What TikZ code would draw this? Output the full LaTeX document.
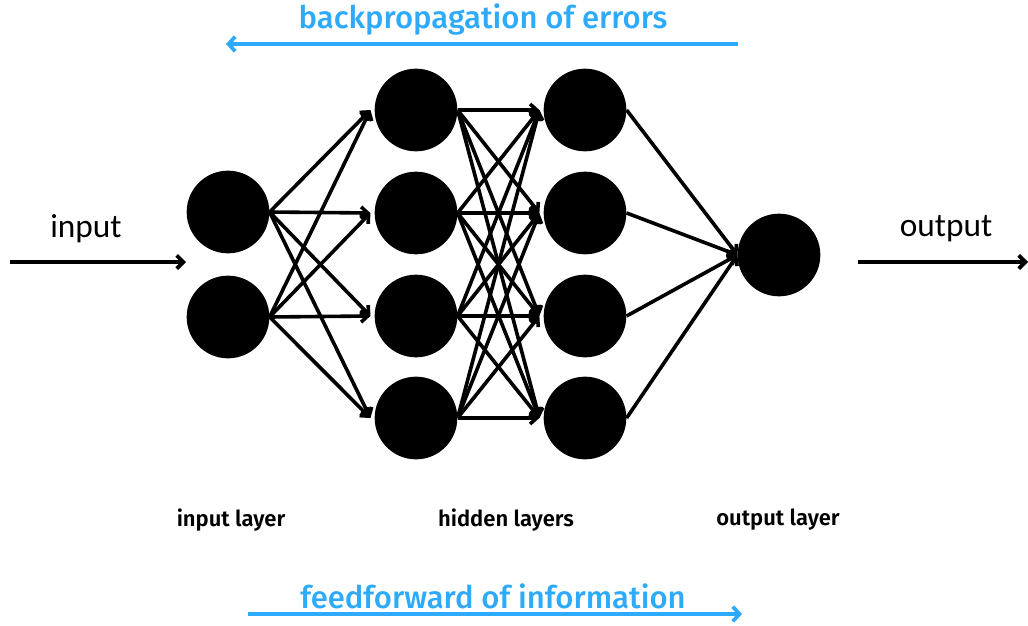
\documentclass[tikz,border=0pt]{standalone}
\usepackage{fontspec}
\setmainfont{Fira Sans}[UprightFont=* Medium, BoldFont=* SemiBold]
\newfontfamily\calfont{Carlito}
\usetikzlibrary{arrows.meta}
\definecolor{flowblue}{RGB}{45,170,250}
\begin{document}
\begin{tikzpicture}[x=0.75pt,y=-0.75pt,
  neuron/.style={circle,fill=black,draw=none,inner sep=0pt,minimum size=62pt},
  link/.style={line width=2.7pt,-{Straight Barb[length=5pt,width=9pt]}},
  ioarrow/.style={line width=2.8pt,-{Straight Barb[length=5pt,width=10pt]}},
  flow/.style={flowblue,line width=2.8pt,-{Straight Barb[length=5pt,width=11pt]}},
  flowtext/.style={text=flowblue,font=\fontsize{23.3}{27}\selectfont},
  layertext/.style={font=\fontsize{16.5}{20}\selectfont\bfseries},
  iotext/.style={font=\calfont\fontsize{25}{30}\selectfont}]
\useasboundingbox (0,0) rectangle (1028,625);

% neurons
\node[neuron] (i1) at (228,212) {};
\node[neuron] (i2) at (228,317) {};
\foreach \k/\y in {1/110,2/213,3/316,4/418}{
  \node[neuron] (a\k) at (416,\y) {};
  \node[neuron] (b\k) at (585,\y) {};
}
\node[neuron] (o) at (779,255) {};

% connections
\foreach \s in {1,2}
  \foreach \t in {1,2,3,4}
    \draw[link] (i\s.east) -- ([xshift=-3pt]a\t.west);
\foreach \s in {1,2,3,4}
  \foreach \t in {1,2,3,4}
    \draw[link] (a\s.east) -- ([xshift=-3pt]b\t.west);
\foreach \s in {1,2,3,4}
  \draw[link] (b\s.east) -- (o.west);

% input and output
\coordinate (inStart) at (10,262);
\coordinate (inEnd) at (186,262);
\coordinate (outStart) at (858,262);
\coordinate (outEnd) at (1028,262);
\draw[ioarrow] (inStart) -- (inEnd);
\draw[ioarrow] (outStart) -- (outEnd);
\node[iotext] (intext) at (86,229) {input};
\node[iotext] (outtext) at (946,229) {output};

% layer labels
\node[layertext] (l1) at (231,520) {input layer};
\node[layertext] (l2) at (506,520) {hidden layers};
\node[layertext] (l3) at (778,520) {output layer};

% direction arrows
\coordinate (bpStart) at (738,44);
\coordinate (bpEnd) at (226,44);
\draw[flow] (bpStart) -- (bpEnd);
\node[flowtext] (bptext) at (483,20) {backpropagation of errors};
\coordinate (ffStart) at (248,614);
\coordinate (ffEnd) at (742,614);
\draw[flow] (ffStart) -- (ffEnd);
\node[flowtext] (fftext) at (493,596) {feedforward of information};
\end{tikzpicture}
\end{document}
